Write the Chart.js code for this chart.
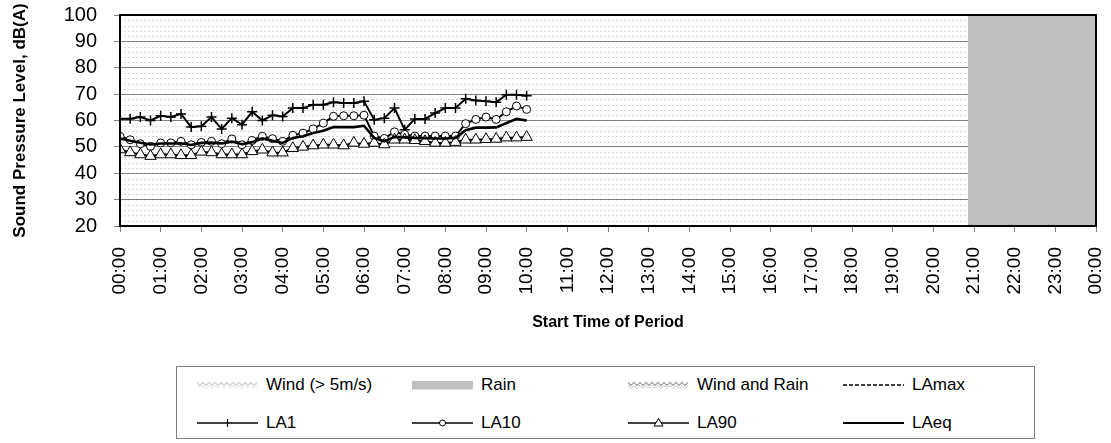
<!DOCTYPE html>
<html>
<head>
<meta charset="utf-8">
<script src="https://cdn.jsdelivr.net/npm/chart.js@4"></script>
<style>
  html, body { margin: 0; padding: 0; background: #fff; }
  #wrap { position: relative; width: 1111px; height: 443px; overflow: hidden; }
  #chart { position: absolute; left: 0; top: 0; }
  #legend {
    position: absolute; left: 176px; top: 366px; width: 859px; height: 73px;
    box-sizing: border-box; border: 1px solid #808080; background: #fff;
    font-family: Arial, "Liberation Sans", sans-serif; font-size: 17px; color: #000;
  }
  .item { position: absolute; height: 20px; display: flex; align-items: center; white-space: nowrap; }
  .item svg { display: block; margin-right: 8px; }
</style>
</head>
<body>
<div id="wrap">
  <canvas id="chart" width="1111" height="443"></canvas>
  <div id="legend"></div>
</div>
<script>
// Start times of the 15-minute measurement periods
const timeLabels = [
  "00:00","00:15","00:30","00:45","01:00","01:15","01:30","01:45",
  "02:00","02:15","02:30","02:45","03:00","03:15","03:30","03:45",
  "04:00","04:15","04:30","04:45","05:00","05:15","05:30","05:45",
  "06:00","06:15","06:30","06:45","07:00","07:15","07:30","07:45",
  "08:00","08:15","08:30","08:45","09:00","09:15","09:30","09:45",
  "10:00"
];

// Hourly axis labels (the last one is midnight of the following day)
const hourTicks = [
  "00:00","01:00","02:00","03:00","04:00","05:00","06:00","07:00",
  "08:00","09:00","10:00","11:00","12:00","13:00","14:00","15:00",
  "16:00","17:00","18:00","19:00","20:00","21:00","22:00","23:00","00:00"
];

// Measured levels, dB(A)
const la1 = [
  60.7, 60.7, 61.3, 60.0, 61.8, 61.3, 62.5, 57.5, 57.8, 61.3,
  56.8, 60.9, 58.4, 63.3, 60.0, 62.0, 61.5, 64.7, 64.7, 66.0,
  66.0, 66.9, 66.6, 66.6, 67.3, 60.3, 60.9, 64.7, 56.5, 60.6,
  60.6, 62.8, 64.7, 64.7, 68.2, 67.6, 67.3, 66.9, 69.8, 69.8,
  69.4
];
const la10 = [
  54.0, 52.7, 51.2, 50.2, 51.5, 51.5, 52.1, 50.8, 51.7, 52.1,
  51.2, 53.0, 50.8, 52.4, 54.0, 53.1, 52.1, 54.4, 55.2, 56.8,
  59.0, 61.6, 61.8, 61.8, 62.0, 54.1, 53.2, 55.7, 54.7, 54.1,
  54.1, 54.1, 54.1, 54.1, 58.8, 60.4, 61.3, 60.4, 63.3, 65.5,
  64.2
];
const la90 = [
  49.0, 47.9, 47.1, 46.5, 47.1, 47.1, 46.8, 46.8, 48.1, 47.9,
  47.1, 47.1, 47.1, 48.3, 48.9, 47.8, 47.8, 49.5, 50.0, 50.5,
  50.8, 50.8, 50.5, 51.5, 51.1, 51.5, 50.9, 52.7, 52.7, 52.5,
  52.1, 51.5, 51.5, 51.8, 52.7, 52.7, 52.9, 53.0, 53.5, 53.5,
  53.7
];
const laeq = [
  53.2, 52.3, 51.6, 50.9, 51.3, 51.3, 51.4, 50.7, 51.5, 51.6,
  51.3, 52.0, 51.0, 51.8, 53.2, 52.3, 51.5, 53.4, 54.0, 55.3,
  56.1, 57.5, 57.5, 57.5, 58.0, 53.4, 52.1, 53.8, 53.6, 53.4,
  53.3, 53.2, 53.2, 53.4, 56.3, 57.3, 57.3, 57.4, 59.0, 60.6,
  60.0
];
const lamax = [];

// Weather periods [start, end]
const windPeriods = [];
const rainPeriods = [["20:51", "24:00"]];
const windRainPeriods = [];

const yMin = 20, yMax = 100;

function toHours(t) {
  const [h, m] = t.split(":").map(Number);
  return h + m / 60;
}
function series(values) {
  return values.map((v, i) => ({ x: toHours(timeLabels[i]), y: v }));
}
function band(periods) {
  const pts = [];
  periods.forEach(([a, b]) => {
    pts.push({ x: toHours(a), y: yMax }, { x: toHours(b), y: yMax }, { x: toHours(b), y: null });
  });
  return pts;
}

const datasets = [
  { label: "Wind (> 5m/s)", data: band(windPeriods), fill: "start", hatch: "#d4d4d4",
    backgroundColor: "#e4e4e4", borderWidth: 0, pointRadius: 0, order: 12 },
  { label: "Rain", data: band(rainPeriods), fill: "start",
    backgroundColor: "#c0c0c0", borderColor: "#c0c0c0", borderWidth: 0, pointRadius: 0, order: 11 },
  { label: "Wind and Rain", data: band(windRainPeriods), fill: "start", hatch: "#a8a8a8",
    backgroundColor: "#b0b0b0", borderWidth: 0, pointRadius: 0, order: 10 },
  { label: "LAmax", data: series(lamax), borderColor: "#000", borderWidth: 1.5,
    borderDash: [4, 2], pointRadius: 0, fill: false, order: 5 },
  { label: "LA1", data: series(la1), borderColor: "#000", borderWidth: 2,
    pointStyle: "cross", pointRadius: 5, pointBorderWidth: 1.5, pointBorderColor: "#000",
    fill: false, order: 4 },
  { label: "LA10", data: series(la10), borderColor: "#000", borderWidth: 2,
    pointStyle: "circle", pointRadius: 4, pointBorderWidth: 1, pointBorderColor: "#000",
    pointBackgroundColor: "#fff", fill: false, order: 3 },
  { label: "LA90", data: series(la90), borderColor: "#000", borderWidth: 2,
    pointStyle: "triangle", pointRadius: 6.5, pointBorderWidth: 1, pointBorderColor: "#000",
    pointBackgroundColor: "#fff", fill: false, order: 2 },
  { label: "LAeq", data: series(laeq), borderColor: "#000", borderWidth: 2.6,
    pointRadius: 0, fill: false, order: 1 }
];

// Dotted minor grid every 2 dB and the black frame around the plot
const plotDecor = {
  id: "plotDecor",
  beforeDatasetsDraw(chart) {
    const { ctx, chartArea: a, scales: { y } } = chart;
    ctx.save();
    ctx.strokeStyle = "#d6d6d6";
    ctx.lineWidth = 1;
    ctx.setLineDash([2, 2]);
    for (let v = yMin + 2; v < yMax; v += 2) {
      if (v % 10 === 0) continue;
      const py = Math.round(y.getPixelForValue(v)) + 0.5;
      ctx.beginPath();
      ctx.moveTo(a.left, py);
      ctx.lineTo(a.right, py);
      ctx.stroke();
    }
    ctx.restore();
  },
  afterDatasetsDraw(chart) {
    const { ctx, chartArea: a } = chart;
    ctx.save();
    ctx.strokeStyle = "#000";
    ctx.lineWidth = 2;
    ctx.strokeRect(a.left, a.top, a.right - a.left, a.bottom - a.top);
    ctx.restore();
  }
};

const font = "Arial, 'Liberation Sans', sans-serif";

// Fixed axis boxes so the plot area sits at the same place every time
function fixBox(scale, size) {
  if (scale.isHorizontal()) scale.height = size; else scale.width = size;
  scale.paddingTop = 0; scale.paddingBottom = 0;
  scale.paddingLeft = 0; scale.paddingRight = 0;
}

const chart = new Chart(document.getElementById("chart"), {
  type: "line",
  data: { datasets },
  options: {
    responsive: false,
    animation: false,
    devicePixelRatio: 1,
    spanGaps: false,
    layout: { padding: { top: 15, right: 15, bottom: 107, left: 0 } },
    elements: { line: { tension: 0 } },
    plugins: { legend: { display: false }, tooltip: { enabled: false } },
    scales: {
      x: {
        type: "linear", min: 0, max: 24,
        border: { display: false },
        grid: { drawOnChartArea: false, drawTicks: true, tickLength: 6, tickColor: "#808080", tickWidth: 1 },
        ticks: {
          stepSize: 1, autoSkip: false, minRotation: 90, maxRotation: 90, padding: 15,
          color: "#000", font: { family: font, size: 19 },
          callback: (v) => hourTicks[v]
        },
        title: {
          display: true, text: "Start Time of Period", color: "#000",
          font: { family: font, size: 16, weight: "bold" }, padding: { top: 0, bottom: 4 }
        },
        afterFit(scale) { fixBox(scale, 110); }
      },
      y: {
        min: yMin, max: yMax,
        border: { display: false },
        grid: {
          drawTicks: true, tickLength: 6, tickColor: "#808080",
          color: (c) => (c.tick && c.tick.value > yMin && c.tick.value < yMax) ? "#808080" : "rgba(0,0,0,0)",
          lineWidth: 1
        },
        ticks: { stepSize: 10, autoSkip: false, padding: 17, color: "#000", font: { family: font, size: 20 } },
        title: {
          display: true, text: "Sound Pressure Level, dB(A)", color: "#000",
          font: { family: font, size: 17, weight: "bold" }, padding: { top: 10, bottom: 0 }
        },
        afterFit(scale) { fixBox(scale, 120); }
      }
    }
  },
  plugins: [plotDecor]
});

// Legend box built from the chart datasets
function swatchSvg(ds) {
  const W = 61, H = 14, c = H / 2;
  let body = "";
  if (ds.fill) {
    if (ds.hatch) {
      let p1 = "", p2 = "";
      for (let x = 0; x <= W; x += 3) {
        const up = (x / 3) % 2 === 0;
        p1 += `${x},${up ? c - 2.5 : c + 0.5} `;
        p2 += `${x},${up ? c + 0.5 : c + 3.5} `;
      }
      body = `<polyline points="${p1}" fill="none" stroke="${ds.hatch}" stroke-width="1.3"/>` +
             `<polyline points="${p2}" fill="none" stroke="${ds.hatch}" stroke-width="1" stroke-dasharray="2,1"/>`;
    } else {
      body = `<rect x="0" y="${c - 4}" width="${W}" height="8.5" fill="${ds.backgroundColor}"/>`;
    }
  } else {
    const dash = ds.borderDash ? `stroke-dasharray="${ds.borderDash.join(",")}"` : "";
    const lw = ds.label === "LAeq" ? 2.2 : 1.5;
    body = `<line x1="0" y1="${c}" x2="${W}" y2="${c}" stroke="#000" stroke-width="${lw}" ${dash}/>`;
    const mx = W / 2;
    if (ds.pointStyle === "cross") {
      body += `<line x1="${mx}" y1="${c - 4}" x2="${mx}" y2="${c + 4}" stroke="#000" stroke-width="1.2"/>`;
    } else if (ds.pointStyle === "circle") {
      body += `<circle cx="${mx}" cy="${c}" r="3" fill="#fff" stroke="#000" stroke-width="1"/>`;
    } else if (ds.pointStyle === "triangle") {
      body += `<polygon points="${mx},${c - 4.5} ${mx - 4.5},${c + 3} ${mx + 4.5},${c + 3}" fill="#fff" stroke="#000" stroke-width="1"/>`;
    }
  }
  return `<svg width="${W}" height="${H}" viewBox="0 0 ${W} ${H}">${body}</svg>`;
}

const legendEl = document.getElementById("legend");
const colX = [20, 235, 451, 666];
const rowY = [8, 46];
chart.data.datasets.forEach((ds, i) => {
  const item = document.createElement("div");
  item.className = "item";
  item.style.left = colX[i % 4] + "px";
  item.style.top = rowY[Math.floor(i / 4)] + "px";
  item.innerHTML = swatchSvg(ds);
  const span = document.createElement("span");
  span.textContent = ds.label;
  item.appendChild(span);
  legendEl.appendChild(item);
});
</script>
</body>
</html>
